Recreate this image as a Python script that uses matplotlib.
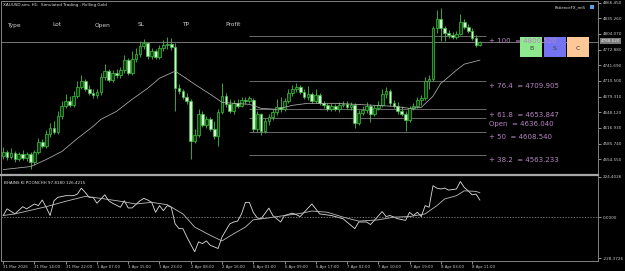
import matplotlib
matplotlib.use("Agg")
import matplotlib.pyplot as plt
from matplotlib.patches import Rectangle

# --- data (XAUUSD H1) ---
opens = [4562, 4570, 4560, 4568, 4556, 4566, 4558, 4566, 4550, 4570,
         4588, 4580, 4604, 4616, 4608, 4640, 4660, 4670, 4662, 4680,
         4698, 4710, 4694, 4686, 4682, 4688, 4718, 4730, 4712, 4726,
         4722, 4732, 4752, 4726, 4754, 4764, 4780, 4786, 4760, 4770,
         4758, 4776, 4782, 4784, 4778, 4696, 4690, 4678, 4670, 4590,
         4602, 4644, 4622, 4634, 4614, 4600, 4648, 4680, 4664, 4650,
         4666, 4660, 4672, 4670, 4672, 4614, 4644, 4610, 4630, 4638,
         4648, 4658, 4654, 4670, 4686, 4694, 4698, 4688, 4678, 4684,
         4670, 4682, 4666, 4662, 4654, 4660, 4654, 4662, 4664, 4658,
         4662, 4626, 4646, 4652, 4660, 4644, 4656, 4662, 4684, 4690,
         4666, 4660, 4650, 4644, 4632, 4656, 4660, 4672, 4676, 4710,
         4714, 4816, 4834, 4816, 4806, 4802, 4798, 4804, 4828, 4818,
         4810, 4796, 4782]
highs = [4578, 4574, 4576, 4572, 4570, 4574, 4570, 4570, 4574, 4596,
         4594, 4612, 4626, 4630, 4650, 4670, 4684, 4680, 4690, 4710,
         4722, 4714, 4702, 4694, 4694, 4726, 4744, 4734, 4732, 4734,
         4738, 4762, 4756, 4770, 4776, 4790, 4794, 4788, 4776, 4774,
         4782, 4792, 4798, 4796, 4786, 4704, 4694, 4686, 4674, 4614,
         4654, 4650, 4640, 4638, 4630, 4654, 4706, 4686, 4674, 4672,
         4674, 4678, 4678, 4680, 4676, 4650, 4646, 4636, 4644, 4654,
         4674, 4678, 4676, 4694, 4702, 4706, 4702, 4694, 4700, 4688,
         4694, 4686, 4670, 4666, 4666, 4664, 4668, 4670, 4670, 4668,
         4666, 4652, 4660, 4668, 4664, 4662, 4670, 4694, 4698, 4694,
         4672, 4668, 4660, 4650, 4660, 4666, 4678, 4682, 4718, 4722,
         4820, 4852, 4856, 4820, 4812, 4808, 4810, 4844, 4834, 4824,
         4816, 4802, 4790]
lows = [4556, 4554, 4556, 4550, 4552, 4554, 4552, 4536, 4544, 4566,
        4576, 4576, 4598, 4604, 4604, 4634, 4656, 4658, 4658, 4676,
        4694, 4690, 4682, 4676, 4676, 4682, 4712, 4708, 4708, 4716,
        4716, 4726, 4722, 4722, 4748, 4758, 4774, 4754, 4754, 4754,
        4754, 4770, 4774, 4772, 4650, 4684, 4674, 4664, 4556, 4586,
        4598, 4618, 4616, 4610, 4594, 4580, 4644, 4658, 4646, 4644,
        4656, 4658, 4664, 4666, 4608, 4608, 4602, 4606, 4622, 4632,
        4642, 4648, 4650, 4666, 4680, 4688, 4684, 4674, 4672, 4666,
        4666, 4662, 4656, 4650, 4650, 4650, 4648, 4658, 4654, 4652,
        4616, 4622, 4642, 4646, 4628, 4640, 4652, 4658, 4676, 4660,
        4656, 4644, 4640, 4610, 4628, 4652, 4656, 4662, 4672, 4694,
        4710, 4806, 4790, 4790, 4796, 4794, 4794, 4802, 4814, 4806,
        4792, 4778, 4780]
closes = [4570, 4560, 4568, 4556, 4566, 4558, 4566, 4550, 4570, 4588,
          4580, 4604, 4616, 4608, 4640, 4660, 4670, 4662, 4680, 4698,
          4710, 4694, 4686, 4682, 4688, 4718, 4730, 4712, 4726, 4722,
          4732, 4752, 4726, 4754, 4764, 4780, 4786, 4760, 4770, 4758,
          4776, 4782, 4784, 4778, 4696, 4690, 4678, 4670, 4590, 4602,
          4644, 4622, 4634, 4614, 4600, 4648, 4680, 4664, 4650, 4666,
          4660, 4672, 4670, 4676, 4614, 4644, 4610, 4630, 4638, 4648,
          4658, 4654, 4670, 4686, 4694, 4698, 4688, 4678, 4684, 4670,
          4682, 4666, 4662, 4654, 4660, 4654, 4662, 4664, 4658, 4662,
          4626, 4646, 4652, 4660, 4644, 4656, 4662, 4684, 4690, 4666,
          4660, 4650, 4644, 4632, 4656, 4660, 4672, 4676, 4710, 4714,
          4816, 4834, 4816, 4806, 4802, 4798, 4804, 4828, 4818, 4810,
          4796, 4782, 4788]

ma_bars = [0, 7, 11, 15, 19, 23, 25, 29, 33, 37, 40, 44, 46, 49, 53, 56, 59,
           63, 66, 70, 74, 76, 78, 85, 90, 95, 100, 104, 107, 110, 112, 113,
           116, 118, 121, 122]
ma_vals = [4534, 4540, 4554, 4570, 4596, 4620, 4634, 4650, 4674, 4696, 4716,
           4730, 4720, 4704, 4684, 4668, 4666, 4664, 4656, 4654, 4662, 4664,
           4666, 4666, 4664, 4662, 4660, 4656, 4658, 4680, 4706, 4712, 4732,
           4744, 4750, 4752]

fast_bars = [0, 1, 3, 5, 6, 8, 9, 10, 11, 12, 13, 14, 16, 18, 19, 20, 21, 22,
             23, 24, 26, 27, 28, 30, 31, 32, 33, 35, 36, 37, 38, 39, 40, 41,
             42, 43, 44, 45, 46, 47, 49, 50, 51, 52, 53, 55, 56, 58, 59, 60,
             61, 62, 63, 64, 65, 66, 68, 69, 71, 72, 74, 75, 76, 79, 81, 84,
             87, 90, 91, 93, 94, 95, 97, 98, 99, 101, 103, 104, 105, 106, 107,
             108, 109, 110, 111, 112, 113, 114, 116, 117, 118, 119, 120, 121,
             122]
fast_vals = [9, 46, 18, 58, 46, 73, 64, 95, 55, 9, 91, 110, 119, 119, 128, 161,
             137, 110, 110, 77, 124, 91, 77, 55, 91, 51, 51, 91, 104, 95, 82,
             27, 64, 36, 64, 55, -37, -64, -64, -110, -192, -137, -147, -132,
             -156, -174, -110, -37, -27, -22, 18, 82, 82, 27, -4, -9, 50, 9,
             -27, 9, 22, 14, 3, 73, 18, 9, -9, -64, -27, -27, -41, -18, 31, 3,
             9, -9, -18, 27, 9, 27, 3, 64, 55, 174, 161, 156, 161, 150, 156,
             198, 165, 146, 124, 128, 95]
slow_bars = [0, 3, 11, 16, 21, 25, 30, 34, 38, 42, 46, 49, 53, 56, 59, 62, 64,
             68, 72, 76, 79, 83, 87, 91, 96, 100, 104, 108, 111, 113, 116, 118,
             121, 122]
slow_vals = [9, 18, 58, 88, 115, 104, 88, 73, 82, 69, 18, -55, -101, -132, -92,
             -55, -15, -4, 9, 20, 34, 27, 0, -22, -15, 0, 3, 18, 64, 101, 119,
             146, 143, 135]

time_labels = ["31 Mar 2026", "31 Mar 14:00", "31 Mar 22:00", "1 Apr 07:00",
               "1 Apr 15:00", "1 Apr 23:00", "2 Apr 08:00", "2 Apr 16:00",
               "6 Apr 01:00", "6 Apr 09:00", "6 Apr 17:00", "7 Apr 02:00",
               "7 Apr 10:00", "7 Apr 19:00", "8 Apr 03:00", "8 Apr 11:00"]
price_ticks = [4866.450, 4835.260, 4804.070, 4772.880, 4741.690, 4710.500,
               4679.310, 4648.120, 4616.930, 4585.740, 4554.550]
osc_ticks = [224.4026, 0.0, -228.3726]

fib_names = ["+ 100", "+ 76.4", "+ 61.8", "Open", "+ 50", "+ 38.2"]
fib_prices = [4800.520, 4709.905, 4653.847, 4636.040, 4608.540, 4563.233]
bid = 4788.520

W, H = 625, 271
BG = "black"
GRID = "#808080"
TXT = "#c8c8c8"
EDGE = "#3ec43e"

fig = plt.figure(figsize=(W / 100, H / 100), dpi=100, facecolor=BG)
ax = fig.add_axes([0.002, (H - 174) / H, 597 / W, 173 / H], facecolor=BG)
ax2 = fig.add_axes([0.002, (H - 261) / H, 597 / W, 86 / H], facecolor=BG)

for a in (ax, ax2):
    a.set_xlim(-0.5, 152.3)
    for s in a.spines.values():
        s.set_color(GRID)
        s.set_linewidth(0.7)
ax2.spines["top"].set_linewidth(1.6)
ax2.spines["top"].set_color("#a8a8a8")
ax.spines["bottom"].set_visible(False)

# candles
n = len(closes)
bars = list(range(n))
ax.vlines(bars, lows, highs, color=EDGE, lw=0.6, zorder=2)
for i in bars:
    o, c = opens[i], closes[i]
    face = "#0e3a0e" if c >= o else "#cdf5cd"
    ax.bar(i, max(abs(c - o), 0.8), bottom=min(o, c), width=0.7,
           color=face, edgecolor=EDGE, linewidth=0.5, zorder=3)

ax.plot(ma_bars, ma_vals, color="#b0b0b0", lw=0.55, zorder=4)


def fx(x):
    return x / W


def fy(y):
    return 1 - y / H


# trade buttons (inside the main axes so the level text can sit above them)
for letter, x0, col in [("B", 520, "#8ee88e"), ("S", 544, "#7474f2"),
                        ("C", 567, "#fcc898")]:
    ax.add_patch(Rectangle((fx(x0), fy(57)), 22 / W, 20 / H,
                           transform=fig.transFigure, facecolor=col,
                           edgecolor="none", zorder=7, clip_on=False))
    ax.text(fx(x0 + 11), fy(48), letter, transform=fig.transFigure,
            fontsize=4.5, color="#404040", va="center", ha="center", zorder=8)

# fibonacci levels + bid line
fib_start = 62.8
for name, p in zip(fib_names, fib_prices):
    ax.hlines(p, fib_start, 123.6, color="#7a7a7a", lw=0.6, zorder=1)
    ax.annotate(f"{name}  = {p:.3f}", xy=(124.4, p), xytext=(0, -1.6),
                textcoords="offset points", va="top", ha="left",
                fontsize=5, color="#b784c4", zorder=9, annotation_clip=False)
ax.axhline(bid, color="#8a8a8a", lw=0.6, zorder=1)

ax.set_ylim(4525.2, 4869.8)
ax.yaxis.tick_right()
ax.set_yticks(price_ticks)
ax.set_yticklabels([f"{v:.3f}" for v in price_ticks])
ax.tick_params(axis="y", labelsize=3, colors=TXT, length=2, width=0.5, pad=1)
ax.tick_params(axis="x", bottom=False, labelbottom=False)

# oscillator
ax2.plot(fast_bars, fast_vals, color="#e0e0e0", lw=0.6)
ax2.plot(slow_bars, slow_vals, color="#bdbdbd", lw=0.6)
ax2.axhline(0, color="#9a9a9a", lw=0.5, ls=(0, (2, 2)))
ax2.set_ylim(-243.4, 233.8)
ax2.yaxis.tick_right()
ax2.set_yticks(osc_ticks)
ax2.set_yticklabels([f"{v:.4f}" for v in osc_ticks])
ax2.tick_params(axis="y", labelsize=3, colors=TXT, length=2, width=0.5, pad=1)
ax2.set_xticks([8 * k for k in range(len(time_labels))])
ax2.set_xticklabels(time_labels, ha="left")
ax2.tick_params(axis="x", labelsize=2.8, colors=TXT, length=2, width=0.5, pad=1)
ax2.text(0.005, 0.93, "BHAINS KI POONCHH 97.8180 126.4215", transform=ax2.transAxes,
         fontsize=3, color="#e0e0e0", va="top", ha="left")

# header
fig.text(fx(3), fy(5), "XAUUSD.sim, H1:  Simulated Trading - Rolling Gold",
         fontsize=3, color="#e0e0e0", va="center", ha="left")
for label, x in zip(["Type", "Lot", "Open", "SL", "TP", "Profit"],
                    [7, 52, 95, 138, 182, 225]):
    fig.text(fx(x), fy(25), label, fontsize=4.2, color="#d0d0d0",
             va="center", ha="left")
fig.text(fx(555), fy(7), "PatienceFX_mt5", fontsize=2.8, color="#e0e0e0",
         va="center", ha="left")
fig.add_artist(Rectangle((fx(590), fy(9)), 4 / W, 4 / H, transform=fig.transFigure,
                         facecolor="#5aa0e6", edgecolor="none"))

# bid price tag on the price scale
fig.text(fx(601), fy(41), f"{bid:.3f}", fontsize=3, color="#e8e8e8",
         va="center", ha="left",
         bbox=dict(boxstyle="square,pad=0.15", facecolor="#7c7c7c", edgecolor="none"))

fig.savefig("out.png", dpi=100, facecolor=BG)
